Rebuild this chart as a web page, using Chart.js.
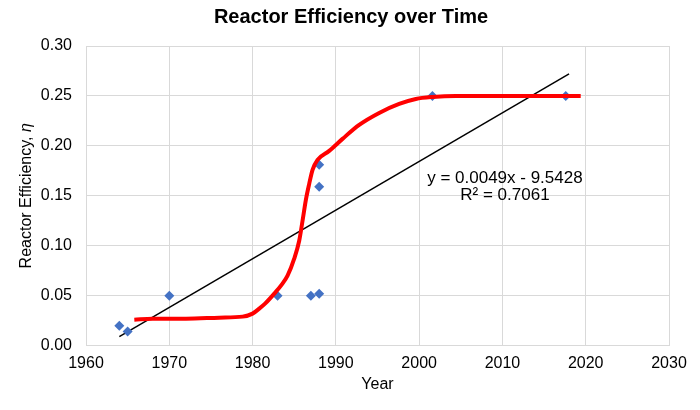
<!DOCTYPE html>
<html lang="en">
<head>
    <meta charset="UTF-8">
    <title>Reactor Efficiency over Time</title>
    <script src="https://cdn.jsdelivr.net/npm/chart.js"></script>
    <style>
        body { margin: 0; background: #fff; }
        #wrap { width: 700px; height: 410px; }
    </style>
</head>
<body>
    <div id="wrap"><canvas id="effChart" width="700" height="410"></canvas></div>
    <script>
        // measured points (blue diamonds)
        const years = [1964, 1965, 1970, 1983, 1987, 1988, 1988, 1988, 2001.6, 2017.6];
        const efficiency = [0.020, 0.014, 0.050, 0.050, 0.050, 0.052, 0.181, 0.159, 0.250, 0.250];

        // red hand-fit curve
        const curveYears = [1965.8, 1968, 1972, 1976, 1978.8, 1980.0, 1980.8, 1981.5, 1982.6, 1983.5, 1984.2,
            1985.0, 1985.6, 1986.0, 1986.4, 1986.8, 1987.2, 1987.8, 1989.2, 1990.8, 1992.8, 1995.2,
            1997.6, 1999.6, 2001.6, 2004.4, 2010, 2019.4];
        const curveEff = [0.026, 0.027, 0.027, 0.028, 0.029, 0.032, 0.037, 0.042, 0.052, 0.061, 0.070,
            0.087, 0.105, 0.125, 0.146, 0.162, 0.176, 0.186, 0.195, 0.207, 0.221, 0.233,
            0.242, 0.247, 0.249, 0.250, 0.250, 0.250];

        // linear trendline end points
        const trendYears = [1964, 2018];
        const trendEff = [0.009, 0.272];
        const trendText = ['y = 0.0049x - 9.5428', 'R² = 0.7061'];

        const chartTitle = 'Reactor Efficiency over Time';
        const xTicks = [1960, 2030, 10];
        const yTicks = [0, 0.30, 0.05];

        const FONT = '"Liberation Sans", Arial, Helvetica, sans-serif';
        const gridColor = '#d9d9d9';

        const toPts = (xs, ys) => xs.map((x, i) => ({ x: x, y: ys[i] }));

        // title centred on the whole canvas, y axis title with an italic eta
        const textPlugin = {
            id: 'extraText',
            afterDraw(chart) {
                const ctx = chart.ctx;
                const area = chart.chartArea;
                ctx.save();
                ctx.fillStyle = '#000';
                ctx.textBaseline = 'middle';

                ctx.font = 'bold 20px ' + FONT;
                ctx.textAlign = 'center';
                ctx.fillText(chartTitle, chart.width / 2 + 1, 17);

                const part1 = 'Reactor Efficiency, ';
                const part2 = 'η';
                ctx.font = '16px ' + FONT;
                const w1 = ctx.measureText(part1).width;
                ctx.font = 'italic 16px ' + FONT;
                const w2 = ctx.measureText(part2).width;
                ctx.translate(27, (area.top + area.bottom) / 2);
                ctx.rotate(-Math.PI / 2);
                ctx.textAlign = 'left';
                let start = -(w1 + w2) / 2;
                ctx.font = '16px ' + FONT;
                ctx.fillText(part1, start, 0);
                ctx.font = 'italic 16px ' + FONT;
                ctx.fillText(part2, start + w1, 0);
                ctx.restore();
            }
        };

        // trendline equation label
        const trendLabelPlugin = {
            id: 'trendLabel',
            afterDraw(chart) {
                const ctx = chart.ctx;
                const xs = chart.scales.x;
                const ys = chart.scales.y;
                ctx.save();
                ctx.font = '17px ' + FONT;
                ctx.fillStyle = '#000';
                ctx.textAlign = 'center';
                ctx.textBaseline = 'middle';
                ctx.fillText(trendText[0], xs.getPixelForValue(2010.3), ys.getPixelForValue(0.168));
                ctx.fillText(trendText[1], xs.getPixelForValue(2010.3), ys.getPixelForValue(0.150));
                ctx.restore();
            }
        };

        new Chart(document.getElementById('effChart'), {
            type: 'scatter',
            data: {
                datasets: [
                    {
                        label: 'Fit',
                        data: toPts(curveYears, curveEff),
                        showLine: true,
                        borderColor: '#ff0000',
                        borderWidth: 4,
                        pointRadius: 0,
                        cubicInterpolationMode: 'monotone',
                        order: 1
                    },
                    {
                        label: 'Data',
                        data: toPts(years, efficiency),
                        pointStyle: 'rectRot',
                        pointRadius: 5,
                        backgroundColor: '#4472c4',
                        borderColor: '#4472c4',
                        borderWidth: 0,
                        order: 2
                    },
                    {
                        label: 'Linear',
                        data: toPts(trendYears, trendEff),
                        showLine: true,
                        borderColor: '#000',
                        borderWidth: 1.5,
                        pointRadius: 0,
                        order: 3
                    }
                ]
            },
            options: {
                responsive: false,
                animation: false,
                layout: { padding: { left: 0, right: 31, top: 46, bottom: 16 } },
                plugins: {
                    legend: { display: false },
                    tooltip: { enabled: false },
                    title: { display: false }
                },
                scales: {
                    x: {
                        type: 'linear',
                        min: xTicks[0],
                        max: xTicks[1],
                        ticks: {
                            stepSize: xTicks[2],
                            color: '#000',
                            padding: 8,
                            font: { family: FONT, size: 16 },
                            callback: v => String(v)
                        },
                        grid: { color: gridColor, drawTicks: false },
                        border: { color: gridColor },
                        title: {
                            display: true,
                            text: 'Year',
                            color: '#000',
                            font: { family: FONT, size: 16 },
                            padding: { top: -6, bottom: 0 }
                        }
                    },
                    y: {
                        min: yTicks[0],
                        max: yTicks[1],
                        afterFit: axis => { axis.width = 86; },
                        ticks: {
                            stepSize: yTicks[2],
                            color: '#000',
                            padding: 14,
                            font: { family: FONT, size: 16 },
                            callback: v => v.toFixed(2)
                        },
                        grid: { color: gridColor, drawTicks: false },
                        border: { color: gridColor }
                    }
                }
            },
            plugins: [textPlugin, trendLabelPlugin]
        });
    </script>
</body>
</html>
